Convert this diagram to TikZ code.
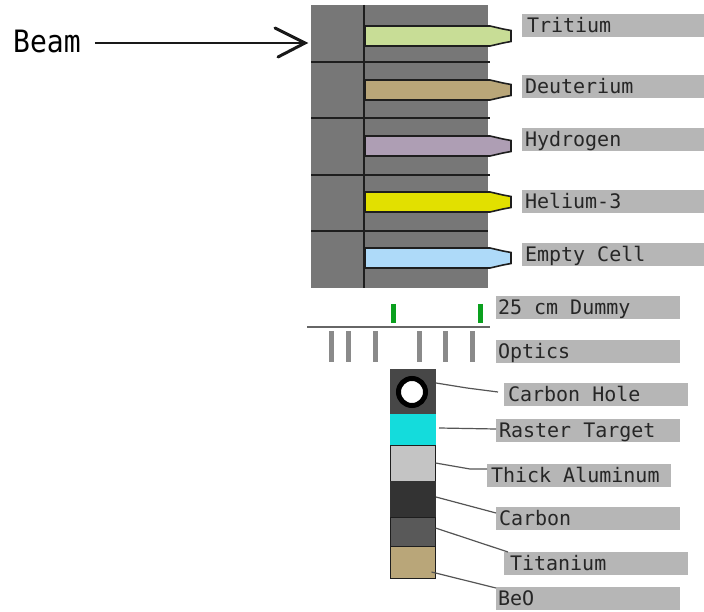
\documentclass[tikz,border=0pt]{standalone}
\usepackage{fontspec}
\setmonofont{DejaVu Sans Mono}

\definecolor{blockgray}{HTML}{777777}
\definecolor{labelgray}{HTML}{B6B6B6}
\definecolor{edgedark}{HTML}{1E1E1E}
\definecolor{leadergray}{HTML}{555555}
\definecolor{tritiumcol}{HTML}{C8DD96}
\definecolor{deuteriumcol}{HTML}{B9A679}
\definecolor{hydrogencol}{HTML}{AE9EB4}
\definecolor{heliumcol}{HTML}{E2E000}
\definecolor{emptycol}{HTML}{AEDAF9}
\definecolor{dummygreen}{HTML}{0AA01E}
\definecolor{opticsgray}{HTML}{8A8A8A}
\definecolor{rastercol}{HTML}{14DCDC}

\begin{document}
\begin{tikzpicture}[
    x=1pt,
    y=-1pt,
    tag/.style={
        rectangle,
        fill=labelgray,
        anchor=north west,
        inner sep=0pt,
        outer sep=0pt,
        minimum height=23pt,
        text width=184pt,
        align=flush left,
        font=\ttfamily\fontsize{20}{20}\selectfont,
        text height=14pt,
        text depth=0pt,
        text=black!85
    },
    foil/.style={
        rectangle,
        anchor=north west,
        inner sep=0pt,
        outer sep=0pt,
        minimum width=46pt
    },
    leader/.style={
        draw=leadergray,
        line width=1.2pt
    },
    divider/.style={
        draw=edgedark,
        line width=1.3pt
    },
    dummytick/.style={
        draw=dummygreen,
        line width=5pt
    },
    opticstick/.style={
        draw=opticsgray,
        line width=5pt
    },
    pics/targetcell/.style={
        code={
            \draw[draw=edgedark, line width=1.6pt, fill=#1]
                (365,-10) -- (490,-10) -- (503,-7) -- (511,-5.5)
                -- (511,5.5) -- (503,7) -- (490,10) -- (365,10) -- cycle;
        }
    }
]
\useasboundingbox (0,0) rectangle (704,612);

% --- Target ladder ---
\node[rectangle, fill=blockgray, anchor=north west, inner sep=0pt, outer sep=0pt,
    minimum width=177pt, minimum height=283pt] (ladder) at (311,5) {};
\draw[divider] (364,5) -- (364,288);
\draw[divider] (311,62) -- (490,62);
\draw[divider] (311,118) -- (490,118);
\draw[divider] (311,175) -- (490,175);
\draw[divider] (311,231) -- (488,231);

\pic at (0,36) {targetcell=tritiumcol};
\pic at (0,90) {targetcell=deuteriumcol};
\pic at (0,146) {targetcell=hydrogencol};
\pic at (0,202) {targetcell=heliumcol};
\pic at (0,258) {targetcell=emptycol};

% --- Beam ---
\node[font=\ttfamily\fontsize{28}{28}\selectfont, anchor=west, inner sep=0pt, yscale=1.1] (beam) at (13,41) {Beam};
\coordinate (beamtip) at (305,43);
\coordinate (barbup) at (275,28);
\coordinate (barbdown) at (278,57);
\draw[line width=2.4pt, black!90] ([xshift=14pt,yshift=-2pt]beam.east) -- (beamtip);
\draw[line width=3pt, black!90, line cap=round] (barbup) -- (beamtip) -- (barbdown);

% --- Cell labels ---
\node[tag] (tritium) at (522,14) {\hspace*{5pt}Tritium};
\node[tag] (deuterium) at (522,75) {\hspace*{3pt}Deuterium};
\node[tag] (hydrogen) at (522,128) {\hspace*{3pt}Hydrogen};
\node[tag] (helium) at (522,190) {\hspace*{3pt}Helium-3};
\node[tag] (empty) at (522,243) {\hspace*{3pt}Empty Cell};

% --- Dummy and optics ---
\node[tag] (dummy) at (496,296) {\hspace*{2pt}25 cm Dummy};
\node[tag] (optics) at (496,340) {\hspace*{2pt}Optics};

\draw[dummytick] (393,304) -- (393,323);
\draw[dummytick] (480,304) -- (480,323);
\draw[draw=black!60, line width=2.5pt] (307,327) -- (490,327);
\draw[opticstick] (331,331) -- (331,362);
\draw[opticstick] (348,331) -- (348,362);
\draw[opticstick] (375,331) -- (375,362);
\draw[opticstick] (419,331) -- (419,362);
\draw[opticstick] (445,331) -- (445,362);
\draw[opticstick] (472,331) -- (472,362);

% --- Solid foil stack ---
\node[foil, fill=black!72, minimum height=45pt] (hole) at (390,369) {};
\node[circle, draw=black, line width=5pt, fill=white, inner sep=0pt, minimum size=27pt] (holering) at (412,392) {};
\node[foil, fill=rastercol, minimum height=31pt] (raster) at (390,414) {};
\node[foil, fill=black!23, draw=edgedark, line width=0.8pt, minimum width=45pt, minimum height=36pt] (thick) at (390.5,445) {};
\node[foil, fill=black!80, minimum height=36pt] (carbonfoil) at (390,481) {};
\node[foil, fill=black!65, draw=edgedark, line width=0.8pt, minimum width=45pt, minimum height=29pt] (titaniumfoil) at (390.5,517) {};
\node[foil, fill=deuteriumcol, draw=edgedark, line width=1pt, minimum width=45pt, minimum height=32pt] (beofoil) at (390.5,546) {};

% --- Foil labels ---
\node[tag] (holetag) at (504,383) {\hspace*{4pt}Carbon Hole};
\node[tag] (rastertag) at (496,419) {\hspace*{3pt}Raster Target};
\node[tag] (thicktag) at (487,464) {\hspace*{4pt}Thick Aluminum};
\node[tag] (carbontag) at (496,507) {\hspace*{3pt}Carbon};
\node[tag] (titaniumtag) at (504,552) {\hspace*{6pt}Titanium};
\node[tag] (beotag) at (496,587) {\hspace*{2pt}BeO};

\draw[leader] ([yshift=8.5pt]hole.east) -- (467,388) -- ([xshift=-6pt,yshift=2.5pt]holetag.west);
\draw[leader] ([xshift=3pt,yshift=1.5pt]raster.east) -- ([yshift=1.5pt]rastertag.west);
\draw[leader] (thick.east) -- (470,469) -- ([yshift=6.5pt]thicktag.west);
\draw[leader] ([yshift=2pt]carbonfoil.east) -- ([yshift=5.5pt]carbontag.west);
\draw[leader] ([yshift=3.5pt]titaniumfoil.east) -- ([xshift=4pt]titaniumtag.north west);
\draw[leader] ([xshift=-4pt,yshift=-10pt]beofoil.east) -- ([yshift=-1pt]beotag.north west);

\end{tikzpicture}
\end{document}
